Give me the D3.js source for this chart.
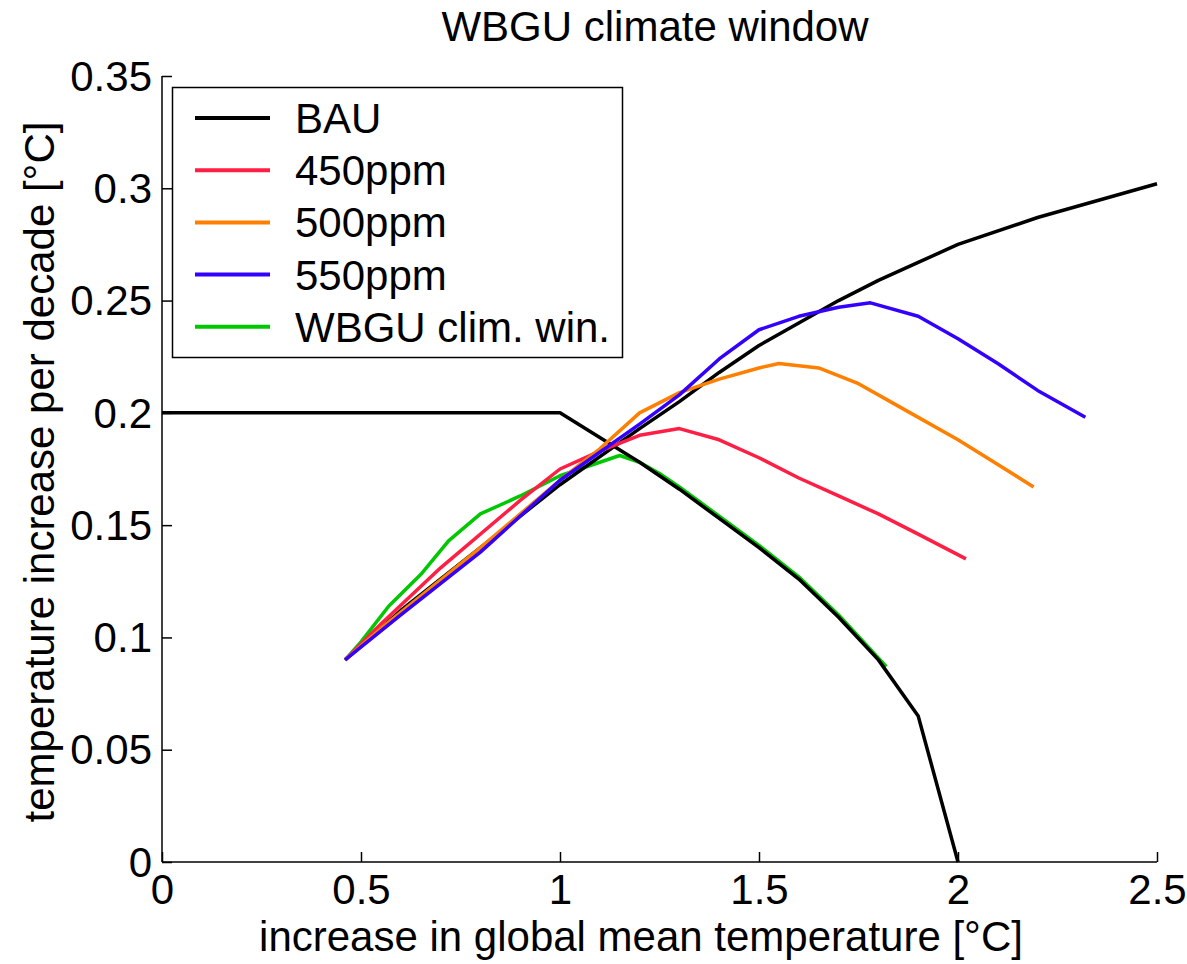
<!DOCTYPE html>
<html lang="en">
<head>
<meta charset="UTF-8">
<title>WBGU climate window</title>
<script src="https://cdn.jsdelivr.net/npm/d3@7"></script>
<style>
  body { margin: 0; background: #fff; }
  text { font-family: "Liberation Sans", Arial, sans-serif; fill: #000; }
</style>
</head>
<body>
<script>
// series: [increase in global mean temperature, increase per decade]
const bauRise = [[0.46,0.09],[0.6,0.112],[0.8,0.14],[1.0,0.168],[1.2,0.193],[1.3,0.205],[1.4,0.218],[1.5,0.23],[1.6,0.24],[1.7,0.25],[1.8,0.259],[1.9,0.267],[2.0,0.275],[2.2,0.287],[2.4,0.297],[2.5,0.302]]
const bauWindow = [[0,0.2],[1.0,0.2],[1.1,0.189],[1.2,0.178],[1.3,0.166],[1.4,0.153],[1.5,0.14],[1.6,0.126],[1.7,0.109],[1.8,0.09],[1.9,0.065],[2.0,0.0]]
const ppm450 = [[0.46,0.09],[0.55,0.106],[0.7,0.131],[0.9,0.161],[1.0,0.175],[1.1,0.183],[1.2,0.19],[1.3,0.193],[1.4,0.188],[1.5,0.18],[1.6,0.171],[1.7,0.163],[1.8,0.155],[1.9,0.146],[2.02,0.135]]
const ppm500 = [[0.46,0.09],[0.55,0.104],[0.8,0.14],[1.0,0.17],[1.1,0.184],[1.2,0.2],[1.3,0.209],[1.4,0.215],[1.5,0.22],[1.55,0.222],[1.65,0.22],[1.75,0.213],[1.85,0.203],[2.0,0.188],[2.1,0.177],[2.19,0.167]]
const ppm550 = [[0.46,0.09],[0.6,0.11],[0.8,0.138],[1.0,0.17],[1.2,0.195],[1.3,0.208],[1.4,0.224],[1.5,0.237],[1.6,0.243],[1.7,0.247],[1.78,0.249],[1.9,0.243],[2.0,0.233],[2.1,0.222],[2.2,0.21],[2.32,0.198]]
const climWin = [[0.46,0.09],[0.5,0.098],[0.57,0.114],[0.65,0.128],[0.72,0.143],[0.8,0.155],[0.9,0.163],[1.0,0.172],[1.1,0.178],[1.15,0.181],[1.2,0.178],[1.25,0.173],[1.3,0.167],[1.4,0.154],[1.5,0.141],[1.6,0.127],[1.7,0.11],[1.82,0.087]]

const legendNames = ['BAU', '450ppm', '500ppm', '550ppm', 'WBGU clim. win.']
const legendColors = ['#000000', '#ff1f45', '#ff8000', '#3300ff', '#00c800']
const xTicks = [0, 0.5, 1, 1.5, 2, 2.5]
const yTicks = [0, 0.05, 0.1, 0.15, 0.2, 0.25, 0.3, 0.35]

const width = 1187
const height = 964
const margin = { top: 76, right: 30, bottom: 102, left: 162 }
const fontSize = 42

const svg = d3.select('body').append('svg')
  .attr('width', width)
  .attr('height', height)

const xScale = d3.scaleLinear()
  .domain([0, 2.5])
  .range([margin.left, width - margin.right])

const yScale = d3.scaleLinear()
  .domain([0, 0.35])
  .range([height - margin.bottom, margin.top])

const xAxis = d3.axisBottom(xScale).tickValues(xTicks).tickSize(-10).tickPadding(12).tickFormat(d3.format('~g'))
const yAxis = d3.axisLeft(yScale).tickValues(yTicks).tickSize(-10).tickPadding(10).tickFormat(d3.format('~g'))

const gx = svg.append('g')
  .attr('transform', `translate(0, ${height - margin.bottom})`)
  .call(xAxis)
const gy = svg.append('g')
  .attr('transform', `translate(${margin.left}, 0)`)
  .call(yAxis)

// only bottom and left axis lines, ticks pointing inside
gx.select('.domain').attr('d', `M${xScale(0)},0H${xScale(2.5)}`)
gy.select('.domain').attr('d', `M0,${yScale(0)}V${yScale(0.35)}`)
svg.selectAll('.domain').attr('stroke', '#000').attr('stroke-width', 1.5)
svg.selectAll('.tick line').attr('stroke', '#000').attr('stroke-width', 1.5)
svg.selectAll('.tick text').attr('font-size', fontSize).style('font-family', '"Liberation Sans", Arial, sans-serif')
gy.selectAll('.tick text').attr('dy', '0.34em')

const line = d3.line()
  .x(d => xScale(d[0]))
  .y(d => yScale(d[1]))

const series = [
  { data: climWin, color: legendColors[4] },
  { data: bauRise, color: legendColors[0] },
  { data: bauWindow, color: legendColors[0] },
  { data: ppm450, color: legendColors[1] },
  { data: ppm500, color: legendColors[2] },
  { data: ppm550, color: legendColors[3] }
]

svg.selectAll('path.series')
  .data(series)
  .enter()
  .append('path')
  .attr('class', 'series')
  .attr('d', d => line(d.data))
  .attr('fill', 'none')
  .attr('stroke', d => d.color)
  .attr('stroke-width', 3.5)
  .attr('stroke-linejoin', 'round')

// legend
svg.append('rect')
  .attr('x', 172.5).attr('y', 87.5)
  .attr('width', 450).attr('height', 270)
  .attr('fill', '#fff').attr('stroke', '#000').attr('stroke-width', 1.5)
legendNames.forEach((name, i) => {
  const y = 118 + i * 52.2
  svg.append('line')
    .attr('x1', 195).attr('x2', 270)
    .attr('y1', y).attr('y2', y)
    .attr('stroke', legendColors[i]).attr('stroke-width', 4)
  svg.append('text')
    .attr('x', 295).attr('y', y + 15)
    .attr('font-size', fontSize)
    .text(name)
})

svg.append('text')
  .attr('x', 655).attr('y', 41)
  .attr('text-anchor', 'middle')
  .attr('font-size', fontSize)
  .text('WBGU climate window')

svg.append('text')
  .attr('x', 641).attr('y', 951)
  .attr('text-anchor', 'middle')
  .attr('font-size', fontSize)
  .text('increase in global mean temperature [°C]')

svg.append('text')
  .attr('transform', `translate(54, ${(margin.top + height - margin.bottom) / 2 + 3}) rotate(-90)`)
  .attr('text-anchor', 'middle')
  .attr('font-size', fontSize)
  .text('temperature increase per decade [°C]')
</script>
</body>
</html>
